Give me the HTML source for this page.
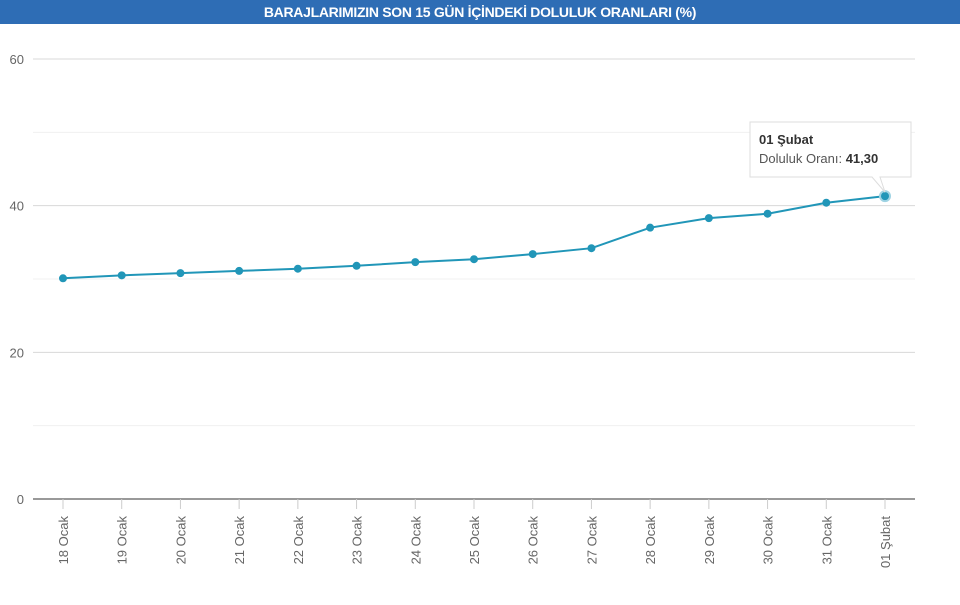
<!DOCTYPE html>
<html><head><meta charset="utf-8"><style>
body{margin:0;width:960px;height:605px;background:#fff;overflow:hidden;font-family:"Liberation Sans",sans-serif}
#hdr{position:absolute;left:0;top:0;width:960px;height:24px;background:#2e6db5;color:#fff;font-weight:bold;font-size:14px;text-align:center;line-height:25px;letter-spacing:-0.3px}
svg{position:absolute;left:0;top:0}
</style></head><body>
<div id="hdr">BARAJLARIMIZIN SON 15 GÜN İÇİNDEKİ DOLULUK ORANLARI (%)</div>
<svg id="c" width="960" height="605"></svg>
<script>
const categories=["18 Ocak","19 Ocak","20 Ocak","21 Ocak","22 Ocak","23 Ocak","24 Ocak","25 Ocak","26 Ocak","27 Ocak","28 Ocak","29 Ocak","30 Ocak","31 Ocak","01 Şubat"];
const values=[30.1,30.5,30.8,31.1,31.4,31.8,32.3,32.7,33.4,34.2,37.0,38.3,38.9,40.4,41.3];
const yTicks=[0,20,40,60];
const yMinor=[10,30,50];
const NS="http://www.w3.org/2000/svg";
const svg=document.getElementById('c');
const x0=63,x1=885,yBase=499,yTop=59,yMax=60;
const xs=i=>x0+(x1-x0)*i/(categories.length-1);
const ys=v=>yBase-(yBase-yTop)*v/yMax;
function mk(t,a){const e=document.createElementNS(NS,t);for(const k in a)e.setAttribute(k,a[k]);svg.appendChild(e);return e;}
yMinor.forEach(v=>{const l=mk('line',{x1:33,x2:915,y1:ys(v),y2:ys(v),stroke:'#f0f0f0','stroke-width':1});

});
yTicks.forEach(v=>{const l=mk('line',{x1:33,x2:915,y1:ys(v),y2:ys(v),stroke:v===0?'#333':'#d8d8d8','stroke-width':1});


const t=mk('text',{x:24,y:ys(v)+5,'text-anchor':'end','font-size':13,fill:'#666'});t.textContent=v;

});
categories.forEach((c,i)=>{const x=xs(i);
const tk=mk('line',{x1:x,x2:x,y1:499,y2:509,stroke:'#ccc'});


const t=mk('text',{x:0,y:0,'font-size':13,fill:'#666','text-anchor':'end',transform:`translate(${x+5},516) rotate(-90)`});t.textContent=c;

});
const p=mk('polyline',{points:values.map((v,i)=>xs(i)+','+ys(v)).join(' '),fill:'none',stroke:'#2196b8','stroke-width':2});


values.forEach((v,i)=>{const d=mk('circle',{cx:xs(i),cy:ys(v),r:i===values.length-1?5:4,fill:'#2196b8',stroke:i===values.length-1?'#9fd3e3':'none','stroke-width':2});

});
// tooltip
const li=values.length-1,tx=xs(li),ty=ys(values[li]);
const g=document.createElementNS(NS,'g');svg.appendChild(g);


const bx=750,by=122,bw=161,bh=55;
const path=document.createElementNS(NS,'path');
path.setAttribute('d',`M${bx},${by} h${bw} v${bh} h-${bw-130} L${tx},${ty-4} L${bx+122},${by+bh} h-122 Z`);
path.setAttribute('fill','rgba(255,255,255,0.95)');path.setAttribute('stroke','#ddd');g.appendChild(path);
const t1=document.createElementNS(NS,'text');t1.setAttribute('x',bx+9);t1.setAttribute('y',by+22);t1.setAttribute('font-size',13);t1.setAttribute('font-weight','bold');t1.setAttribute('fill','#333');t1.textContent=categories[li];g.appendChild(t1);
const t2=document.createElementNS(NS,'text');t2.setAttribute('x',bx+9);t2.setAttribute('y',by+41);t2.setAttribute('font-size',13);t2.setAttribute('fill','#555');
t2.innerHTML='Doluluk Oranı: <tspan font-weight="bold" fill="#333">'+values[li].toFixed(2).replace('.',',')+'</tspan>';g.appendChild(t2);
</script>
</body></html>
